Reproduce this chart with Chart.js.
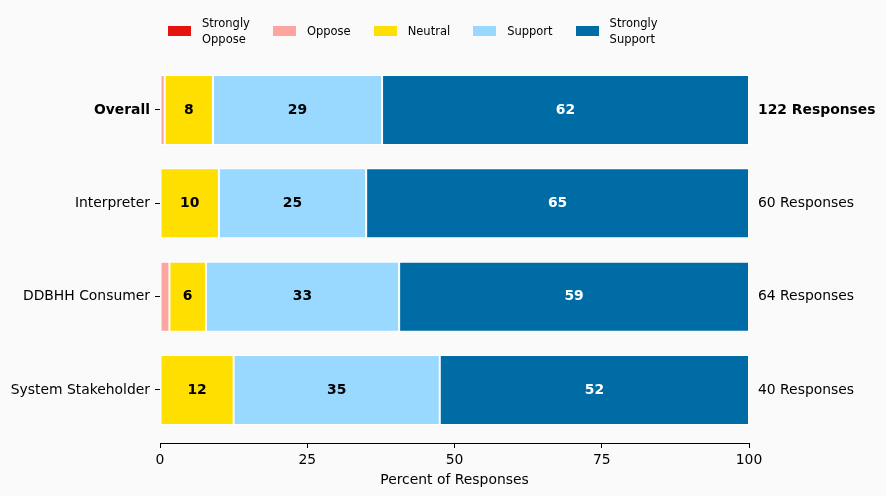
<!DOCTYPE html>
<html>
<head>
<meta charset="utf-8">
<script src="https://cdn.jsdelivr.net/npm/chart.js@4.4.0/dist/chart.umd.min.js"></script>
<style>
  body { margin: 0; background: #fafafa; }
  #wrap { position: relative; width: 886px; height: 496px; }
  #legend {
    position: absolute; top: 0; left: 168px; height: 62px;
    display: flex; align-items: center; gap: 23px;
    font-family: "DejaVu Sans", sans-serif; font-size: 11.5px; line-height: 16px; color: #000;
  }
  .item { display: flex; align-items: center; }
  .box { width: 23px; height: 10px; margin-right: 11px; }
</style>
</head>
<body>
<div id="wrap">
  <canvas id="chart" width="886" height="496"></canvas>
  <div id="legend"></div>
</div>
<script>
const groups = ['Overall', 'Interpreter', 'DDBHH Consumer', 'System Stakeholder'];
const responses = ['122 Responses', '60 Responses', '64 Responses', '40 Responses'];
const seriesNames = ['Strongly\nOppose', 'Oppose', 'Neutral', 'Support', 'Strongly\nSupport'];
const stronglyOppose = [0, 0, 0, 0];
const oppose = [0.8, 0, 1.6, 0];
const neutral = [8.2, 10, 6.2, 12.5];
const support = [28.7, 25, 32.8, 35];
const stronglySupport = [62.3, 65, 59.4, 52.5];
const xTicks = [0, 25, 50, 75, 100];

const colors = ['#e5140e', '#ffa59f', '#ffdf00', '#99d8ff', '#006ca5'];
const font = '"DejaVu Sans", sans-serif';

// python-style rounding (half to even)
function roundEven(v) {
    const f = Math.floor(v);
    const d = v - f;
    if (Math.abs(d - 0.5) < 1e-9) return f % 2 === 0 ? f : f + 1;
    return Math.round(v);
}

// legend in html so the two-line names wrap
const legend = document.getElementById('legend');
seriesNames.forEach((name, i) => {
    const item = document.createElement('div');
    item.className = 'item';
    const box = document.createElement('div');
    box.className = 'box';
    box.style.background = colors[i];
    const label = document.createElement('div');
    label.innerHTML = name.replace('\n', '<br>');
    item.appendChild(box);
    item.appendChild(label);
    legend.appendChild(item);
});

const barLabels = {
    id: 'barLabels',
    afterDatasetsDraw(chart) {
        const ctx = chart.ctx;
        ctx.save();
        ctx.font = 'bold 13.9px ' + font;
        ctx.textAlign = 'center';
        ctx.textBaseline = 'middle';
        chart.data.datasets.forEach((ds, i) => {
            chart.getDatasetMeta(i).data.forEach((bar, j) => {
                const v = ds.data[j].x;
                if (v < 3) return;
                ctx.fillStyle = i === 4 ? '#ffffff' : '#000000';
                ctx.fillText(roundEven(v), (bar.x + bar.base) / 2, bar.y);
            });
        });
        ctx.restore();
    }
};

const allSeries = [stronglyOppose, oppose, neutral, support, stronglySupport];
const yMin = -0.557, yMax = 3.568;

const sideFont = (c) => ({ family: font, size: 13.9, weight: c.index === 0 ? 'bold' : 'normal' });
// each axis needs its own tick objects (labels get written onto them)
const rowTicks = () => groups.map((g, i) => ({ value: i }));

new Chart(document.getElementById('chart'), {
    type: 'bar',
    data: {
        datasets: allSeries.map((d, i) => ({
            label: seriesNames[i].replace('\n', ' '),
            data: d.map((v, j) => ({ x: v, y: j })),
            backgroundColor: colors[i],
            borderColor: '#ffffff',
            borderWidth: 1,
            borderSkipped: false,
            categoryPercentage: 1,
            barPercentage: 0.75
        }))
    },
    plugins: [barLabels],
    options: {
        indexAxis: 'y',
        responsive: false,
        animation: false,
        layout: { padding: { top: 58, left: 10, right: 5, bottom: 0 } },
        plugins: {
            legend: { display: false },
            tooltip: { enabled: false }
        },
        scales: {
            x: {
                stacked: true,
                min: 0,
                max: 100,
                afterBuildTicks: (s) => { s.ticks = xTicks.map(v => ({ value: v })); },
                afterFit: (s) => { s.height = 53; },
                grid: { drawOnChartArea: false, tickLength: 5, color: '#000' },
                border: { color: '#000', width: 1 },
                ticks: { color: '#000', padding: 4, font: { family: font, size: 13.9 } },
                title: {
                    display: true, text: 'Percent of Responses', color: '#000',
                    font: { family: font, size: 13.9 }, padding: { top: 3, bottom: 7 }
                }
            },
            y: {
                type: 'linear',
                stacked: true,
                reverse: true,
                offset: false,
                min: yMin,
                max: yMax,
                afterBuildTicks: (s) => { s.ticks = rowTicks(); },
                afterFit: (s) => { s.width = 150; },
                grid: { drawOnChartArea: false, offset: false, tickLength: 5, color: '#000' },
                border: { display: false },
                ticks: {
                    color: '#000', padding: 5, font: sideFont,
                    callback: (v) => groups[v]
                }
            },
            y2: {
                type: 'linear',
                position: 'right',
                reverse: true,
                offset: false,
                min: yMin,
                max: yMax,
                afterBuildTicks: (s) => { s.ticks = rowTicks(); },
                afterFit: (s) => { s.width = 132; },
                grid: { display: false, offset: false },
                border: { display: false },
                ticks: {
                    color: '#000', padding: 1, font: sideFont,
                    callback: (v) => responses[v]
                }
            }
        }
    }
});
</script>
</body>
</html>
